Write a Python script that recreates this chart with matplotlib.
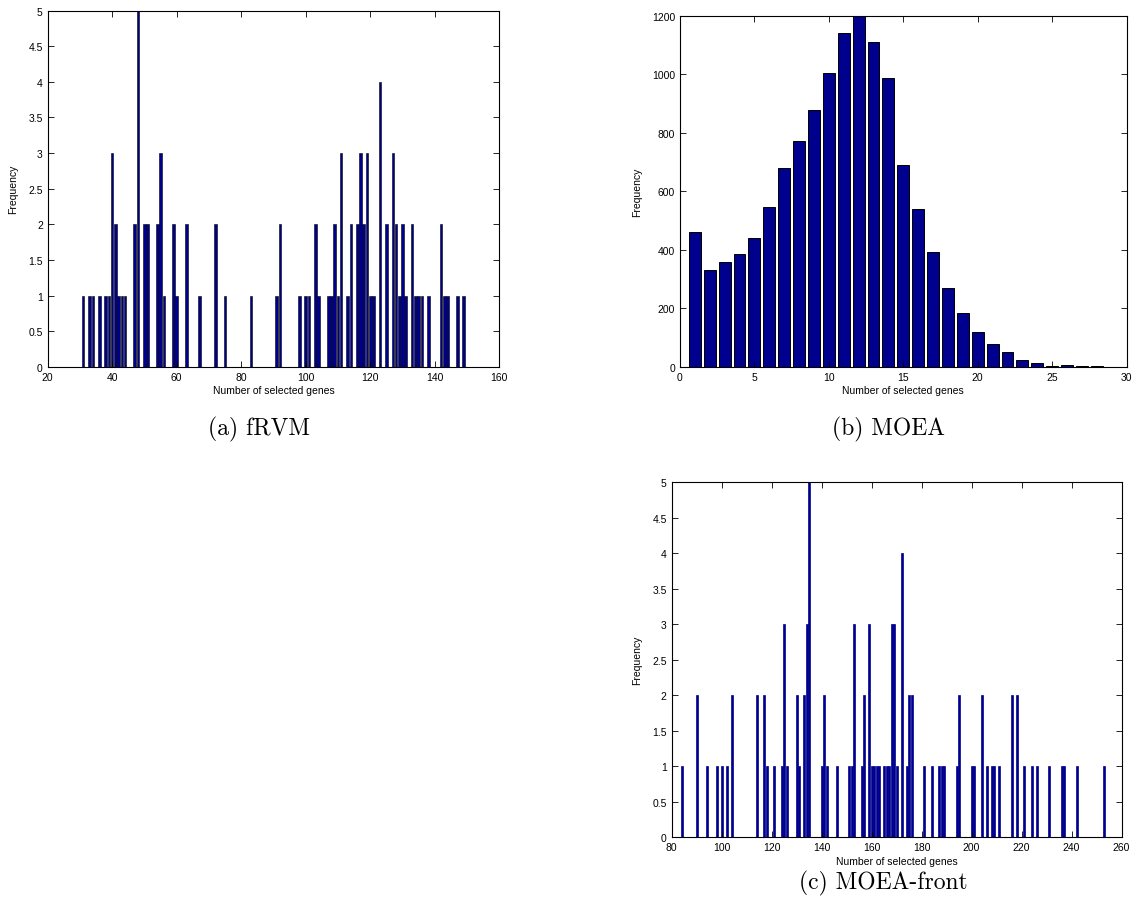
import matplotlib
matplotlib.use('Agg')
import matplotlib.pyplot as plt
from matplotlib.ticker import FuncFormatter

# (a) fRVM : number of selected genes -> frequency
genes_a = [31, 33, 34, 36, 38, 39, 40, 41, 42, 43, 44, 47, 48, 50, 51, 54, 55, 56,
           59, 60, 63, 67, 72, 75, 83, 91, 92, 98, 100, 101, 103, 104, 107, 108,
           109, 110, 111, 113, 114, 116, 117, 118, 119, 120, 121, 123, 125, 127,
           128, 129, 130, 131, 133, 134, 135, 136, 138, 142, 143, 144, 147, 149]
freq_a = [1, 1, 1, 1, 1, 1, 3, 2, 1, 1, 1, 2, 5, 2, 2, 2, 3, 1,
          2, 1, 2, 1, 2, 1, 1, 1, 2, 1, 1, 1, 2, 1, 1, 1,
          2, 1, 3, 1, 2, 2, 3, 2, 3, 1, 1, 4, 2, 3,
          2, 1, 2, 1, 2, 1, 1, 1, 1, 2, 1, 1, 1, 1]

# (b) MOEA
genes_b = list(range(1, 30))
freq_b = [459, 330, 359, 384, 441, 545, 678, 770, 879, 1003, 1140, 1198, 1110, 986,
          691, 540, 392, 269, 185, 117, 76, 51, 24, 13, 3, 6, 2, 1, 0]

# (c) MOEA-front
genes_c = [84, 90, 94, 98, 100, 102, 104, 114, 117, 118, 121, 124, 125, 126, 130, 131,
           133, 134, 135, 140, 141, 142, 146, 151, 152, 153, 156, 157, 159, 160, 161,
           162, 163, 165, 166, 167, 168, 169, 170, 172, 174, 175, 176, 181, 184, 187,
           188, 189, 194, 195, 200, 201, 204, 206, 208, 209, 211, 216, 218, 221, 224,
           226, 231, 236, 237, 242, 253]
freq_c = [1, 2, 1, 1, 1, 1, 2, 2, 2, 1, 1, 1, 3, 1, 2, 1,
          2, 3, 5, 1, 2, 1, 1, 1, 1, 3, 1, 2, 3, 1, 1,
          1, 1, 1, 1, 1, 3, 3, 1, 4, 1, 2, 2, 1, 1, 1,
          1, 1, 1, 2, 1, 1, 2, 1, 1, 1, 1, 2, 2, 1, 1,
          1, 1, 1, 1, 1, 1]

navy = (0, 0, 0.56)
tick_font = 'Liberation Sans'
fmt = FuncFormatter(lambda v, p: '%g' % v)

fig = plt.figure(figsize=(11.38, 9.12), dpi=100)


def style(ax):
    ax.tick_params(direction='in', top=True, right=True, length=4, width=0.6,
                   labelsize=7.5, pad=3.5)
    for lab in ax.get_xticklabels() + ax.get_yticklabels():
        lab.set_fontfamily(tick_font)
    for s in ax.spines.values():
        s.set_linewidth(0.8)
    ax.set_xlabel('Number of selected genes', fontsize=7.5, family=tick_font, labelpad=2.5)
    ax.set_ylabel('Frequency', fontsize=7.5, family=tick_font, labelpad=7)


# (a)
ax = fig.add_axes([0.0419, 0.5968, 0.3968, 0.3904])
ax.bar(genes_a, freq_a, width=0.8, color=navy, edgecolor='black', linewidth=0.4)
ax.set_xlim(20, 160)
ax.set_ylim(0, 5)
ax.set_yticks([0, 0.5, 1, 1.5, 2, 2.5, 3, 3.5, 4, 4.5, 5])
ax.yaxis.set_major_formatter(fmt)
style(ax)

# (b)
ax = fig.add_axes([0.5975, 0.5968, 0.3925, 0.3849])
ax.bar(genes_b, freq_b, width=0.8, color=navy, edgecolor='black', linewidth=0.7)
ax.set_xlim(0, 30)
ax.set_ylim(0, 1200)
ax.set_yticks(range(0, 1201, 200))
style(ax)

# (c)
ax = fig.add_axes([0.5902, 0.0808, 0.3954, 0.3893])
ax.bar(genes_c, freq_c, width=0.85, color=navy, edgecolor=navy, linewidth=0.5)
ax.set_xlim(80, 260)
ax.set_ylim(0, 5)
ax.set_xticks(range(80, 261, 20))
ax.set_yticks([0, 0.5, 1, 1.5, 2, 2.5, 3, 3.5, 4, 4.5, 5])
ax.yaxis.set_major_formatter(fmt)
style(ax)

# captions
fig.text(259 / 1138, 1 - 429 / 912, '(a) fRVM', ha='center', va='center',
         fontsize=17, family='cmr10')
fig.text(889 / 1138, 1 - 429 / 912, '(b) MOEA', ha='center', va='center',
         fontsize=17, family='cmr10')
fig.text(883 / 1138, 1 - 883 / 912, '(c) MOEA-front', ha='center', va='center',
         fontsize=17, family='cmr10')

fig.savefig('out.png', dpi=100)
